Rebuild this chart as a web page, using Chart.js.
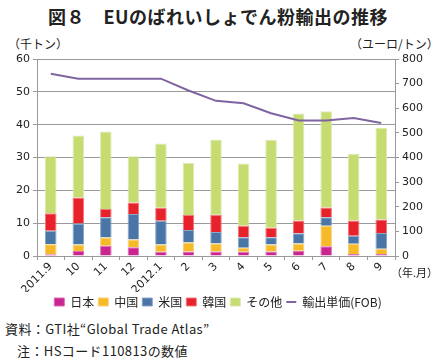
<!DOCTYPE html>
<html>
<head>
<meta charset="utf-8">
<script src="https://cdn.jsdelivr.net/npm/chart.js@4/dist/chart.umd.min.js"></script>
<style>
  body { margin: 0; background: #fff; }
  #wrap { position: relative; width: 436px; height: 364px; font-family: "Noto Sans CJK JP", sans-serif; color: #222; }
  #chartCanvas { position: absolute; left: 0; top: 0; }
  .txt { position: absolute; white-space: nowrap; }
</style>
</head>
<body>
<div id="wrap">
  <div class="txt" style="left:0;width:436px;top:3px;text-align:center;font-size:18px;font-weight:bold;letter-spacing:0.5px;">図８　EUのばれいしょでん粉輸出の推移</div>
  <div class="txt" style="left:8px;top:35px;font-size:12px;">（千トン）</div>
  <div class="txt" style="left:350px;top:35px;font-size:12px;">（ユーロ/トン）</div>
  <canvas id="chartCanvas" width="436" height="318"></canvas>
  <div class="txt" style="left:391px;top:264px;font-size:11px;">（年.月）</div>
  <div class="txt" style="left:5px;top:319px;font-size:13px;letter-spacing:0.4px;">資料：GTI社“Global Trade Atlas”</div>
  <div class="txt" style="left:17px;top:341px;font-size:13px;letter-spacing:0.4px;">注：HSコード110813の数値</div>
</div>
<script>
let months = ['2011.9', '10', '11', '12', '2012.1', '2', '3', '4', '5', '6', '7', '8', '9'];
let japan = [0.5, 1.5, 3.1, 2.7, 1.3, 1.4, 1.4, 1.3, 1.4, 1.6, 3.0, 0.6, 0.6];
let china = [3.1, 2.0, 2.5, 2.3, 2.2, 2.7, 2.4, 1.2, 2.1, 2.2, 6.2, 3.1, 1.6];
let usa = [4.1, 6.4, 6.2, 7.8, 7.2, 3.8, 3.5, 3.2, 2.2, 3.1, 2.6, 2.5, 4.8];
let korea = [5.3, 7.9, 2.5, 3.5, 4.0, 4.6, 5.3, 3.5, 2.9, 3.9, 3.0, 4.6, 4.1];
let others = [17.4, 18.9, 23.6, 14.1, 19.6, 15.8, 22.9, 19.0, 26.8, 32.6, 29.3, 20.3, 27.9];
let price = [740, 720, 720, 720, 720, 672, 630, 620, 580, 550, 550, 560, 540];
let leftTicks = [0, 10, 20, 30, 40, 50, 60];
let rightTicks = [0, 100, 200, 300, 400, 500, 600, 700, 800];

const tickFont = { family: 'DejaVu Sans', size: 11 };
const axisGray = '#9a9a9a';

function bar(label, data, color, edge) {
    return {
        type: 'bar',
        label: label,
        data: data,
        backgroundColor: color,
        borderColor: edge,
        borderWidth: 1,
        yAxisID: 'y',
        stack: 's',
        pointStyle: 'rect',
        order: 2
    };
}

const chartData = {
    labels: months,
    datasets: [
        bar('日本', japan, '#c9248f', '#dc6cb4'),
        bar('中国', china, '#f6b927', '#f9d27a'),
        bar('米国', usa, '#4a75a7', '#8aa6c8'),
        bar('韓国', korea, '#e8222a', '#f07a7e'),
        bar('その他', others, '#c6dc71', '#dcebb0'),
        {
            type: 'line',
            label: '輸出単価(FOB)',
            data: price,
            borderColor: '#7f64a2',
            backgroundColor: '#7f64a2',
            borderWidth: 2,
            pointRadius: 0,
            tension: 0,
            yAxisID: 'y1',
            pointStyle: 'line',
            order: 1
        }
    ]
};

const chartOptions = {
    responsive: false,
    animation: false,
    layout: { padding: { top: 59, left: 0, right: 0, bottom: 0 } },
    datasets: { bar: { barPercentage: 0.42, categoryPercentage: 1 } },
    plugins: {
        tooltip: { enabled: false },
        legend: {
            position: 'bottom',
            labels: {
                usePointStyle: true,
                pointStyleWidth: 10,
                boxWidth: 10,
                boxHeight: 8,
                padding: 4,
                color: '#222',
                font: { family: 'Noto Sans CJK JP', size: 12 },
                sort: (a, b) => a.datasetIndex - b.datasetIndex
            }
        }
    },
    scales: {
        x: {
            stacked: true,
            offset: true,
            grid: { offset: true, drawOnChartArea: false, color: axisGray, tickLength: 4 },
            border: { color: axisGray },
            ticks: { minRotation: 45, maxRotation: 45, color: '#222', font: { family: 'DejaVu Sans', size: 11 }, padding: 0 },
            afterFit: (scale) => { scale.height = 36; }
        },
        y: {
            position: 'left',
            stacked: true,
            min: 0,
            max: 60,
            afterBuildTicks: (scale) => { scale.ticks = leftTicks.map((v) => ({ value: v })); },
            grid: { color: axisGray, tickLength: 4 },
            border: { color: axisGray },
            ticks: { color: '#222', font: tickFont, padding: 3 },
            afterFit: (scale) => { scale.width = 37; }
        },
        y1: {
            position: 'right',
            min: 0,
            max: 800,
            afterBuildTicks: (scale) => { scale.ticks = rightTicks.map((v) => ({ value: v })); },
            grid: { drawOnChartArea: false, color: axisGray, tickLength: 4 },
            border: { color: axisGray },
            ticks: { color: '#222', font: tickFont, padding: 3 },
            afterFit: (scale) => { scale.width = 41; }
        }
    }
};

const canvas = document.getElementById('chartCanvas');
new Chart(canvas, {
    type: 'bar',
    data: chartData,
    options: chartOptions
});
</script>
</body>
</html>
